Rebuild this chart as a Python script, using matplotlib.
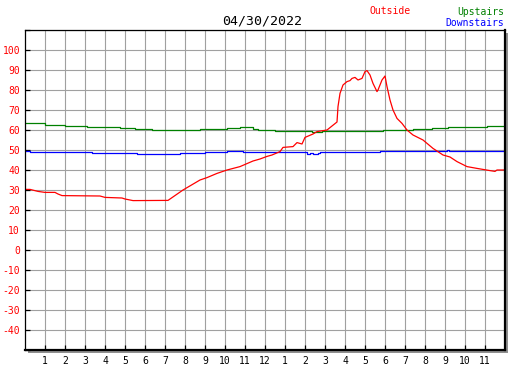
import matplotlib
matplotlib.use("Agg")
import matplotlib.pyplot as plt
from matplotlib.patches import Rectangle

title = "04/30/2022"
x_tick_hours = list(range(1, 24))
x_tick_labels = [str(h) for h in range(1, 12)] + ["12"] + [str(h) for h in range(1, 12)]
y_ticks = list(range(-50, 111, 10))
y_tick_labels = ["" if (v == -50 or v == 110) else str(v) for v in y_ticks]

outside_hours = [0, 0.25, 0.65, 1.0, 1.5, 1.65, 1.85, 3.75, 4.0, 4.85, 5.0, 5.4, 7.15, 7.9,
                 8.75, 9.1, 9.6, 10.1, 10.75, 11.4, 11.75, 12.1, 12.35, 12.75, 12.9, 13.4,
                 13.6, 13.85, 14.0, 14.4, 14.6, 15.1, 15.35, 15.6, 15.65, 15.75, 15.9, 16.1,
                 16.25, 16.35, 16.5, 16.65, 16.85, 17.0, 17.1, 17.25, 17.4, 17.6, 17.65,
                 17.85, 18.0, 18.1, 18.25, 18.4, 18.6, 18.85, 19.1, 19.4, 19.9, 20.4, 20.9,
                 21.25, 21.6, 22.1, 22.6, 23.25, 23.5, 23.6, 24.0]
outside_temps = [30.3, 30.3, 29.3, 28.8, 28.8, 28.0, 27.2, 27.0, 26.3, 26.0, 25.5, 24.7, 24.8, 30.0,
                 35.0, 36.2, 38.3, 40.0, 41.7, 44.5, 45.5, 46.8, 47.5, 49.2, 51.3, 51.7,
                 53.7, 53.0, 56.3, 58.0, 59.2, 60.0, 62.0, 64.0, 71.7, 78.3, 82.5, 84.2,
                 84.7, 85.8, 86.3, 85.0, 85.8, 89.2, 89.7, 87.5, 83.3, 79.2, 80.0,
                 85.0, 87.0, 81.7, 75.0, 70.0, 65.8, 63.3, 60.0, 57.5, 55.0, 50.8, 47.5,
                 46.5, 44.2, 41.7, 40.8, 39.7, 39.3, 40.0, 40.0]

upstairs_hours = [0, 1.0, 2.0, 3.1, 3.75, 4.75, 5.5, 6.35, 8.75, 10.1, 10.75, 11.4, 11.65, 12.5,
                  13.5, 14.35, 14.85, 17.9, 19.4, 20.35, 21.15, 23.1, 24.0]
upstairs_temps = [63.5, 62.7, 62.2, 61.7, 61.3, 60.8, 60.3, 59.8, 60.3, 60.8, 61.3, 60.3, 60.0, 59.7,
                  59.3, 58.8, 59.5, 60.0, 60.5, 61.0, 61.7, 62.0, 62.0]

downstairs_hours = [0, 0.25, 3.35, 5.6, 7.75, 9.0, 10.1, 10.9, 11.6, 12.0, 14.1, 14.25, 14.4, 14.65,
                    14.75, 16.1, 16.25, 16.5, 16.65, 16.9, 17.05, 17.25, 17.75, 21.1, 21.2, 24.0]
downstairs_temps = [49.5, 48.8, 48.3, 47.8, 48.3, 48.8, 49.5, 48.8, 49.2, 48.8, 48.0, 48.6, 47.8, 48.3,
                    48.8, 49.2, 48.8, 49.2, 48.8, 49.2, 48.8, 49.2, 49.5, 49.8, 49.5, 49.5]

W, H = 527, 370
fig = plt.figure(figsize=(W / 100, H / 100), dpi=100)
fig.patch.set_facecolor("white")

L, R, T, B = 25, 505, 30, 350
# shadow
fig.add_artist(Rectangle(((L + 3) / W, 1 - (B + 3) / H), (R - L) / W, (B - T) / H,
                         transform=fig.transFigure, facecolor="#909090", edgecolor="none", zorder=0))
ax = fig.add_axes([L / W, 1 - B / H, (R - L) / W, (B - T) / H], zorder=1)
ax.set_facecolor("white")

mono = "DejaVu Sans Mono"
ax.plot(upstairs_hours, upstairs_temps, color="#008000", lw=0.9, drawstyle="steps-post", zorder=3)
ax.plot(downstairs_hours, downstairs_temps, color="#0000ff", lw=0.9, drawstyle="steps-post", zorder=3)
ax.plot(outside_hours, outside_temps, color="#ff0000", lw=0.9, zorder=4)

ax.set_xlim(0, 24)
ax.set_ylim(-50, 110)
ax.set_xticks(x_tick_hours)
ax.set_xticklabels(x_tick_labels, fontfamily=mono, fontsize=7, color="black")
ax.set_yticks(y_ticks)
ax.set_yticklabels(y_tick_labels, fontfamily=mono, fontsize=7, color="#ff0000")
ax.tick_params(axis="both", direction="in", length=3.6, width=0.9, color="black")
ax.tick_params(axis="x", pad=4)
ax.tick_params(axis="y", pad=3.6)
ax.grid(True, color="#a0a0a0", lw=0.8, zorder=1)
ax.set_axisbelow(True)
for s in ["left", "top"]:
    ax.spines[s].set_linewidth(0.9)
for s in ["right", "bottom"]:
    ax.spines[s].set_linewidth(1.6)
for s in ax.spines.values():
    s.set_color("black")
    s.set_zorder(5)

fig.text(262.5 / W, 1 - 20.5 / H, title, ha="center", va="center", fontfamily=mono, fontsize=9.5, color="black")
fig.text(390 / W, 1 - 11.5 / H, "Outside", ha="center", va="center", fontfamily=mono, fontsize=7, color="#ff0000")
fig.text(504 / W, 1 - 11.7 / H, "Upstairs", ha="right", va="center", fontfamily=mono, fontsize=7, color="#008000")
fig.text(504 / W, 1 - 23.3 / H, "Downstairs", ha="right", va="center", fontfamily=mono, fontsize=7, color="#0000ff")

fig.savefig("out.png", dpi=100)
